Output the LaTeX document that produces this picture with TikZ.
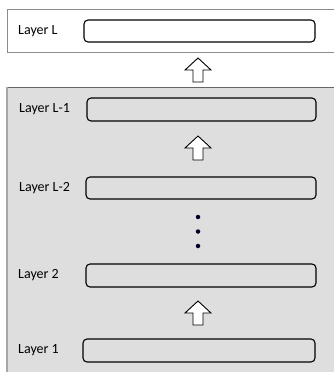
\documentclass[tikz,border=0pt]{standalone}
\usepackage{fontspec}
\setmainfont{Carlito}
\begin{document}
\begin{tikzpicture}[x=1pt,y=-1pt,
  lbl/.style={anchor=west,inner sep=0pt,font=\fontsize{14}{16}\selectfont},
  layerbox/.style={draw=black,line width=1.1pt,rounded corners=4pt},
  blockarrow/.pic={\draw[fill=white,line width=0.9pt,line join=miter]
     (0,0) -- (13,12) -- (5,12) -- (5,24) -- (-5,24) -- (-5,12) -- (-13,12) -- cycle;},
  dot/.style={circle,fill=black!85!blue,inner sep=0pt,minimum size=4.5pt}]
\useasboundingbox (0,0) rectangle (333,372);
% top panel
\path[draw=black!45,line width=0.8pt,fill=white] (7,9) rectangle (340,52);
% gray panel
\fill[black!13] (7,87) rectangle (340,380);
\draw[black!60,line width=0.8pt] (7,87) -- (340,87);
\draw[black!35,line width=1.6pt] (7,87) -- (7,380);
% layer L
\node[lbl] (tL) at (18,31) {Layer L};
\node[layerbox,minimum width=231pt,minimum height=22pt] (bL) at (199.5,31) {};
\pic at (198,58) {blockarrow};
% layer L-1
\node[lbl] (tL1) at (19,109) {Layer L-1};
\node[layerbox,minimum width=229pt,minimum height=23pt] (bL1) at (201.5,109.5) {};
\pic at (198,136) {blockarrow};
% layer L-2
\node[lbl] (tL2) at (19,188) {Layer L-2};
\node[layerbox,minimum width=230pt,minimum height=22pt] (bL2) at (201,188) {};
% dots
\node[dot] (d1) at (198,217) {};
\node[dot] (d2) at (198,231.5) {};
\node[dot] (d3) at (198,246) {};
% layer 2
\node[lbl] (t2) at (18,275) {Layer 2};
\node[layerbox,minimum width=230pt,minimum height=23pt] (b2) at (201,275.5) {};
\pic at (198,301) {blockarrow};
% layer 1
\node[lbl] (t1) at (18,350) {Layer 1};
\node[layerbox,minimum width=232pt,minimum height=23pt] (b1) at (199,350.5) {};
\end{tikzpicture}
\end{document}
